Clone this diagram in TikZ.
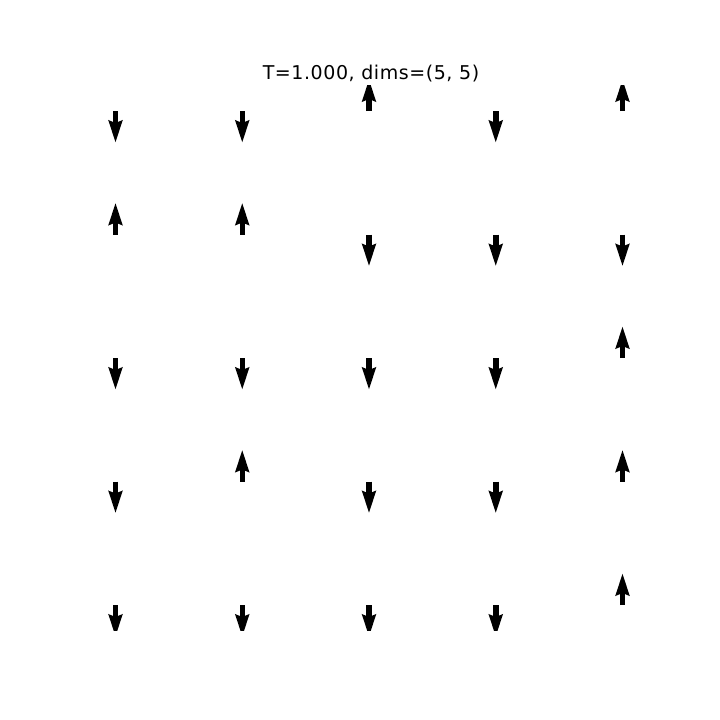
\documentclass[tikz,border=0pt]{standalone}
\usepackage{fontspec}
\setmainfont{DejaVu Sans}
\usetikzlibrary{arrows.meta}
\tikzset{
    titulo/.style = {font=\fontsize{19}{22}\selectfont\addfontfeature{LetterSpace=3},
                     inner sep=0pt, anchor=base},
    seta/.style   = {-{Stealth[length=22pt, width=13pt, inset=2pt]}, line width=5.5pt, black},
}
\begin{document}
\begin{tikzpicture}[x=1pt, y=-1pt]
    \useasboundingbox (0,0) rectangle (720,720);
    \node[titulo] (titulo) at (371,79) {T=1.000, dims=(5, 5)};
    % spins: +1 para cima, -1 para baixo
    \begin{scope}
        \clip (0,85.5) rectangle (720,630.5);
        \foreach \lin/\linha in {0/{-1,-1,1,-1,1}, 1/{1,1,-1,-1,-1}, 2/{-1,-1,-1,-1,1},
                                 3/{-1,1,-1,-1,1}, 4/{-1,-1,-1,-1,1}}
            \foreach \s [count=\col from 0] in \linha
                \draw[seta] (115.5+126.75*\col, 111+123.5*\lin)
                    -- (115.5+126.75*\col, 111+123.5*\lin-32*\s);
    \end{scope}
\end{tikzpicture}
\end{document}
